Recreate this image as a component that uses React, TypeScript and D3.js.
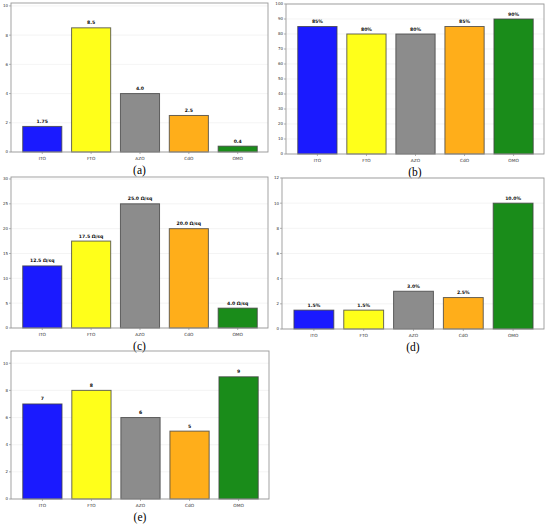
import React from "react";
import * as d3 from "d3";

// categories and colours shared by all five panels
const materials = ["ITO", "FTO", "AZO", "CdO", "OMO"];
const barColors = ["#1a1aff", "#ffff1a", "#8c8c8c", "#ffae1a", "#1a8c1a"];

// (a)
const valuesA = [1.75, 8.5, 4.0, 2.5, 0.4];
const labelsA = ["1.75", "8.5", "4.0", "2.5", "0.4"];
const ticksA = [0, 2, 4, 6, 8, 10];
// (b)
const valuesB = [85, 80, 80, 85, 90];
const labelsB = ["85%", "80%", "80%", "85%", "90%"];
const ticksB = [0, 10, 20, 30, 40, 50, 60, 70, 80, 90, 100];
// (c)
const valuesC = [12.5, 17.5, 25.0, 20.0, 4.0];
const labelsC = ["12.5 Ω/sq", "17.5 Ω/sq", "25.0 Ω/sq", "20.0 Ω/sq", "4.0 Ω/sq"];
const ticksC = [0, 5, 10, 15, 20, 25, 30];
// (d)
const valuesD = [1.5, 1.5, 3.0, 2.5, 10.0];
const labelsD = ["1.5%", "1.5%", "3.0%", "2.5%", "10.0%"];
const ticksD = [0, 2, 4, 6, 8, 10, 12];
// (e)
const valuesE = [7, 8, 6, 5, 9];
const labelsE = ["7", "8", "6", "5", "9"];
const ticksE = [0, 2, 4, 6, 8, 10];

interface PanelProps {
  values: number[];
  labels: string[];
  ticks: number[];
  yMax: number;
  caption: string;
  left: number;
  right: number;
  top: number;
  bottom: number;
}

const Panel: React.FC<PanelProps> = ({ values, labels, ticks, yMax, caption, left, right, top, bottom }) => {
  const x = d3.scaleLinear().domain([-0.64, 4.62]).range([left, right]);
  const y = d3.scaleLinear().domain([0, yMax]).range([bottom, top]);
  const bw = x(0.4) - x(-0.4);
  const mid = (left + right) / 2;
  return (
    <g>
      {ticks.map((t) => (
        <g key={t}>
          <line x1={left} x2={right} y1={y(t)} y2={y(t)} stroke="#ececec" strokeWidth={0.6} />
          <line x1={left - 2} x2={left} y1={y(t)} y2={y(t)} stroke="#666" strokeWidth={0.5} />
          <text x={left - 3} y={y(t)} dy="0.35em" textAnchor="end" fontSize={4} fill="#333" fontFamily="DejaVu Sans">
            {t}
          </text>
        </g>
      ))}
      {values.map((v, i) => (
        <g key={i}>
          <rect
            x={x(i) - bw / 2}
            y={y(v)}
            width={bw}
            height={y(0) - y(v)}
            fill={barColors[i]}
            stroke="#444"
            strokeOpacity={0.8}
            strokeWidth={1}
          />
          <text x={x(i)} y={y(v) - 3.5} textAnchor="middle" fontSize={4.6} fontWeight="bold" fill="#111" fontFamily="DejaVu Sans">
            {labels[i]}
          </text>
          <line x1={x(i)} x2={x(i)} y1={bottom} y2={bottom + 2} stroke="#666" strokeWidth={0.5} />
          <text x={x(i)} y={bottom + 7.5} textAnchor="middle" fontSize={4.3} fill="#333" fontFamily="DejaVu Sans">
            {materials[i]}
          </text>
        </g>
      ))}
      <rect x={left} y={top} width={right - left} height={bottom - top} fill="none" stroke="#999" strokeWidth={0.9} />
      <text x={mid} y={bottom + 22} textAnchor="middle" fontSize={11.5} fill="#000" fontFamily="Liberation Serif">
        {caption}
      </text>
    </g>
  );
};

export default function App() {
  return (
    <svg width={550} height={525} style={{ position: "absolute", left: 0, top: 0, background: "#fff" }}>
      <rect width={550} height={525} fill="#fff" />
      <Panel values={valuesA} labels={labelsA} ticks={ticksA} yMax={10.2} caption="(a)" left={11} right={268} top={3} bottom={152} />
      <Panel values={valuesB} labels={labelsB} ticks={ticksB} yMax={100} caption="(b)" left={286} right={544} top={4} bottom={154} />
      <Panel values={valuesC} labels={labelsC} ticks={ticksC} yMax={30.4} caption="(c)" left={11} right={268} top={177} bottom={328} />
      <Panel values={valuesD} labels={labelsD} ticks={ticksD} yMax={12} caption="(d)" left={282} right={544} top={178} bottom={329} />
      <Panel values={valuesE} labels={labelsE} ticks={ticksE} yMax={10.9} caption="(e)" left={11} right={269} top={351} bottom={499} />
    </svg>
  );
}
